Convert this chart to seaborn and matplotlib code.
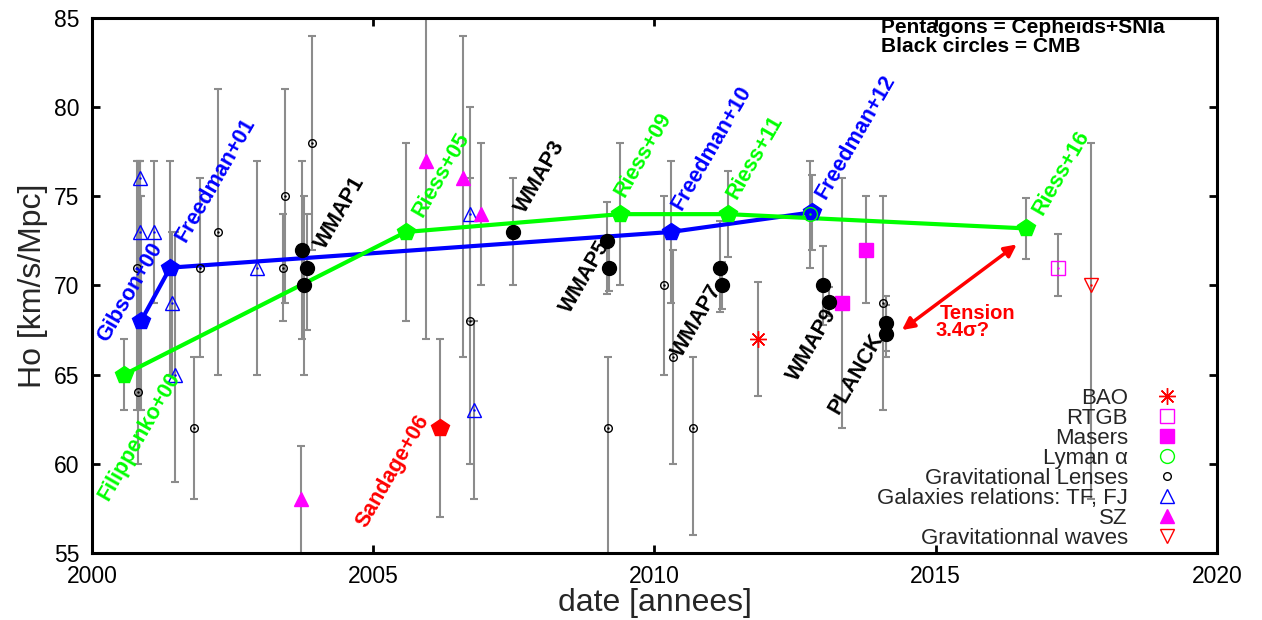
import numpy as np
import pandas as pd
import matplotlib
matplotlib.use("Agg")
import matplotlib.pyplot as plt
import seaborn as sns
from matplotlib.lines import Line2D

# ---------------- data ----------------
# Cepheids + SNIa, Freedman series (blue pentagons)
freedman_year = [2000.87, 2001.39, 2010.29, 2012.80]
freedman_h = [68.0, 71.0, 73.0, 74.1]
freedman_lo = [63.0, 65.0, 69.0, 72.0]
freedman_hi = [75.0, 77.0, 77.0, 76.2]
freedman_names = ["Gibson+00", "Freedman+01", "Freedman+10", "Freedman+12"]
freedman_lab_x = [2000.27, 2001.67, 2010.49, 2013.04]
freedman_lab_y = [66.8, 72.4, 74.2, 74.8]

# Cepheids + SNIa, Riess series (green pentagons)
riess_year = [2000.57, 2005.58, 2009.39, 2011.31, 2016.60]
riess_h = [65.0, 73.0, 74.0, 74.0, 73.2]
riess_lo = [63.0, 68.0, 70.0, 71.6, 71.5]
riess_hi = [67.0, 78.0, 78.0, 76.4, 74.9]
riess_names = ["Filippenko+00", "Riess+05", "Riess+09", "Riess+11", "Riess+16"]
riess_lab_x = [2000.29, 2005.87, 2009.47, 2011.46, 2016.90]
riess_lab_y = [57.9, 73.8, 74.9, 74.8, 73.9]

# Sandage (red pentagon)
sandage_year = [2006.19]
sandage_h = [62.0]
sandage_lo = [57.0]
sandage_hi = [67.0]
sandage_names = ["Sandage+06"]
sandage_lab_x = [2004.87]
sandage_lab_y = [56.4]

# CMB (black circles)
cmb_year = [2003.73, 2003.82, 2003.77, 2007.48, 2009.16, 2009.20, 2011.16, 2011.20,
            2012.99, 2013.10, 2014.12, 2014.12]
cmb_h = [72.0, 71.0, 70.0, 73.0, 72.5, 71.0, 71.0, 70.0, 70.0, 69.1, 67.9, 67.3]
cmb_lo = [67.0, 67.5, 65.0, 70.0, 69.5, 69.7, 68.5, 68.7, 67.8, 68.3, 66.3, 66.0]
cmb_hi = [77.0, 74.0, 75.0, 76.0, 74.7, 72.3, 73.6, 71.3, 72.2, 69.9, 69.4, 68.9]
cmb_names = ["WMAP1", "WMAP3", "WMAP5", "WMAP7", "WMAP9", "PLANCK"]
cmb_lab_x = [2004.14, 2007.70, 2008.50, 2010.49, 2012.53, 2013.28]
cmb_lab_y = [72.0, 74.0, 68.4, 65.95, 64.6, 62.75]

# Gravitational lenses
lens_year = [2000.80, 2000.82, 2001.82, 2001.92, 2002.24, 2003.40, 2003.43, 2003.91,
             2006.72, 2009.17, 2010.17, 2010.33, 2010.68, 2014.06]
lens_h = [71.0, 64.0, 62.0, 71.0, 73.0, 71.0, 75.0, 78.0, 68.0, 62.0, 70.0, 66.0, 62.0, 69.0]
lens_lo = [63.0, 60.0, 58.0, 66.0, 65.0, 68.0, 69.0, 72.0, 60.0, 52.0, 65.0, 60.0, 56.0, 63.0]
lens_hi = [77.0, 77.0, 66.0, 76.0, 81.0, 74.0, 81.0, 84.0, 76.0, 66.0, 75.0, 72.0, 66.0, 75.0]

# Galaxies relations: TF, FJ
tf_year = [2000.85, 2000.85, 2001.10, 2001.42, 2001.48, 2002.93, 2006.72, 2006.79]
tf_h = [76.0, 73.0, 73.0, 69.0, 65.0, 71.0, 74.0, 63.0]
tf_lo = [75.0, 63.0, 69.0, 65.0, 59.0, 65.0, 68.0, 58.0]
tf_hi = [77.0, 77.0, 77.0, 73.0, 73.0, 77.0, 80.0, 68.0]

# SZ
sz_year = [2003.71, 2005.94, 2006.60, 2006.91]
sz_h = [58.0, 77.0, 76.0, 74.0]
sz_lo = [52.0, 67.0, 66.0, 70.0]
sz_hi = [61.0, 87.0, 84.0, 78.0]

# BAO
bao_year = [2011.84]
bao_h = [67.0]
bao_lo = [63.8]
bao_hi = [70.2]

# Masers
maser_year = [2013.33, 2013.76]
maser_h = [69.0, 72.0]
maser_lo = [62.0, 69.0]
maser_hi = [76.0, 75.0]

# Lyman alpha
lya_year = [2012.76]
lya_h = [74.0]
lya_lo = [71.0]
lya_hi = [77.0]

# RTGB
rtgb_year = [2017.17]
rtgb_h = [71.0]
rtgb_lo = [69.4]
rtgb_hi = [72.9]

# Gravitational waves
gw_year = [2017.76]
gw_h = [70.0]
gw_lo = [58.0]
gw_hi = [78.0]

# Tension arrow (Planck -> Riess+16)
arrow_from = (2014.40, 67.5)
arrow_to = (2016.44, 72.3)

# ---------------- style ----------------
sns.set_theme(style="ticks")
plt.rcParams["font.family"] = ["Liberation Sans", "DejaVu Sans"]

BLUE = "#0000ff"
GREEN = "#00ff00"
RED = "#ff0000"
MAG = "#ff00ff"
GRAY = "#8c8c8c"

fig = plt.figure(figsize=(12.62, 6.2), dpi=100)
ax = fig.add_axes([0.0729, 0.1081, 0.8914, 0.8629])


def ebar(x, h, lo, hi):
    h = np.asarray(h)
    yerr = [h - np.asarray(lo), np.asarray(hi) - h]
    ax.errorbar(x, h, yerr=yerr, fmt="none", ecolor=GRAY, elinewidth=1.5,
                capsize=3.0, capthick=1.5, zorder=1)


for grp in [(lens_year, lens_h, lens_lo, lens_hi), (tf_year, tf_h, tf_lo, tf_hi),
            (sz_year, sz_h, sz_lo, sz_hi), (bao_year, bao_h, bao_lo, bao_hi),
            (maser_year, maser_h, maser_lo, maser_hi), (lya_year, lya_h, lya_lo, lya_hi),
            (rtgb_year, rtgb_h, rtgb_lo, rtgb_hi), (gw_year, gw_h, gw_lo, gw_hi),
            (cmb_year, cmb_h, cmb_lo, cmb_hi),
            (freedman_year, freedman_h, freedman_lo, freedman_hi),
            (riess_year, riess_h, riess_lo, riess_hi),
            (sandage_year, sandage_h, sandage_lo, sandage_hi)]:
    ebar(*grp)

# Cepheid lines
df_f = pd.DataFrame({"year": freedman_year, "H": freedman_h})
df_r = pd.DataFrame({"year": riess_year, "H": riess_h})
sns.lineplot(data=df_f, x="year", y="H", sort=False, color=BLUE, lw=3, ax=ax, zorder=2)
sns.lineplot(data=df_r, x="year", y="H", sort=False, color=GREEN, lw=3, ax=ax, zorder=2)


def sc(x, y, marker, ms, face, edge, lw=1.0, dot=False, z=3):
    ax.plot(x, y, ls="none", marker=marker, ms=ms, mfc=face, mec=edge, mew=lw, zorder=z)
    if dot:
        ax.plot(x, y, ls="none", marker=".", ms=1.5, color=edge, zorder=z)


sc(lens_year, lens_h, "o", 5.5, "none", "black", 1.0, dot=True)
sc(tf_year, tf_h, "^", 9.5, "none", BLUE, 1.0, dot=True)
sc(sz_year, sz_h, "^", 9.5, MAG, MAG, 1.0)
sc(bao_year, bao_h, (8, 2, 0), 12, RED, RED, 1.0)
sc(maser_year, maser_h, "s", 9.5, MAG, MAG, 1.0)
sc(rtgb_year, rtgb_h, "s", 10, "none", MAG, 1.0, dot=True)
sc(gw_year, gw_h, "v", 10, "none", RED, 1.0, dot=True)
sc(cmb_year, cmb_h, "o", 10, "black", "black", 1.0)
sc(freedman_year, freedman_h, "p", 13, BLUE, BLUE, 1.0, z=4)
sc(riess_year, riess_h, "p", 13, GREEN, GREEN, 1.0, z=4)
sc(sandage_year, sandage_h, "p", 13, RED, RED, 1.0, z=4)
sc(lya_year, lya_h, "o", 10, "none", GREEN, 1.0, dot=True, z=5)

# rotated labels
lab_kw = dict(rotation=60, rotation_mode="anchor", ha="left", va="baseline",
              fontsize=15.5, fontweight="bold", zorder=6)
for names, xs, ys, col in [(freedman_names, freedman_lab_x, freedman_lab_y, BLUE),
                           (riess_names, riess_lab_x, riess_lab_y, GREEN),
                           (sandage_names, sandage_lab_x, sandage_lab_y, RED),
                           (cmb_names, cmb_lab_x, cmb_lab_y, "black")]:
    for n, x, y in zip(names, xs, ys):
        ax.text(x, y, n, color=col, **lab_kw)

# tension arrow and text
ax.annotate("", xy=arrow_to, xytext=arrow_from,
            arrowprops=dict(arrowstyle="<|-|>", color=RED, lw=2.5, mutation_scale=18,
                            shrinkA=0, shrinkB=0), zorder=6)
ax.text(2015.08, 68.12, "Tension", color=RED, fontsize=14.5, fontweight="bold")
ax.text(2015.0, 67.15, "3.4σ?", color=RED, fontsize=14.5, fontweight="bold")

# header text
ax.text(2014.03, 84.15, "Pentagons = Cepheids+SNIa", fontsize=15, fontweight="bold", color="black")
ax.text(2014.03, 83.12, "Black circles = CMB", fontsize=15, fontweight="bold", color="black")

# legend
handles = [
    Line2D([], [], ls="none", marker=(8, 2, 0), ms=12, mfc=RED, mec=RED, mew=1.0),
    Line2D([], [], ls="none", marker="s", ms=10, mfc="none", mec=MAG, mew=1.0),
    Line2D([], [], ls="none", marker="s", ms=9.5, mfc=MAG, mec=MAG),
    Line2D([], [], ls="none", marker="o", ms=10, mfc="none", mec=GREEN, mew=1.0),
    Line2D([], [], ls="none", marker="o", ms=5.5, mfc="none", mec="black", mew=1.0),
    Line2D([], [], ls="none", marker="^", ms=9.5, mfc="none", mec=BLUE, mew=1.0),
    Line2D([], [], ls="none", marker="^", ms=9.5, mfc=MAG, mec=MAG),
    Line2D([], [], ls="none", marker="v", ms=10, mfc="none", mec=RED, mew=1.0),
]
labels = ["BAO", "RTGB", "Masers", "Lyman α", "Gravitational Lenses",
          "Galaxies relations: TF, FJ", "SZ", "Gravitationnal waves"]
ax.legend(handles, labels, loc="lower right", bbox_to_anchor=(0.9653, 0.0075),
          frameon=False, markerfirst=False, fontsize=16, labelspacing=-0.045,
          handlelength=1.0, handletextpad=1.25, borderpad=0, borderaxespad=0)

# axes
ax.set_xlim(2000, 2020)
ax.set_ylim(55, 85)
ax.set_xticks([2000, 2005, 2010, 2015, 2020])
ax.set_yticks([55, 60, 65, 70, 75, 80, 85])
ax.set_xlabel("date [annees]", fontsize=23, labelpad=0)
ax.set_ylabel("Ho [km/s/Mpc]", fontsize=23, labelpad=4)
ax.tick_params(direction="in", length=6, width=2, top=True, right=True,
               labelsize=16.5, pad=9, colors="black")
for s in ax.spines.values():
    s.set_linewidth(2.2)
    s.set_color("black")
ax.grid(False)

fig.savefig("out.png", dpi=100)
